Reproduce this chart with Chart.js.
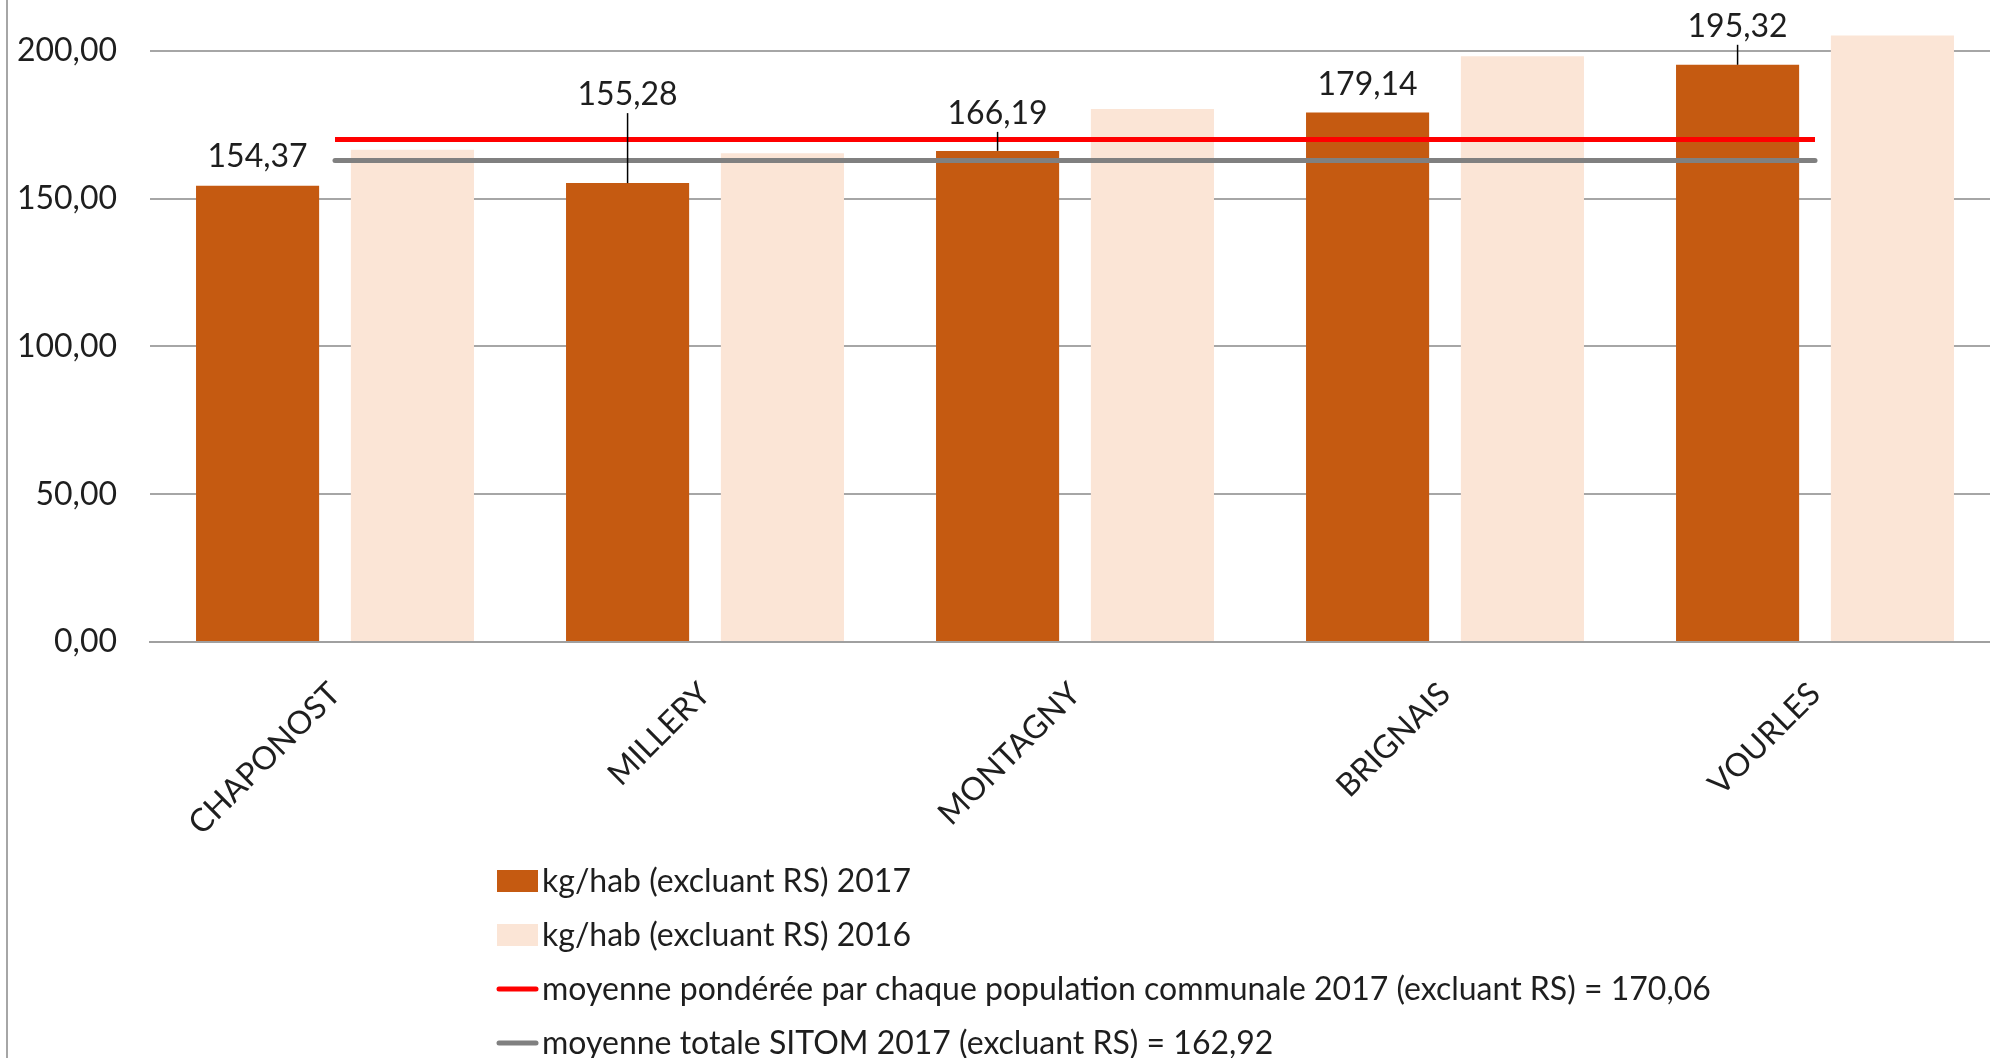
<!DOCTYPE html>
<html>
<head>
<meta charset="utf-8">
<script src="https://cdn.jsdelivr.net/npm/chart.js@4.4.1/dist/chart.umd.min.js"></script>
<style>
  html, body { margin: 0; padding: 0; background: #ffffff; overflow: hidden; width: 1990px; height: 1058px; }
  #wrap { position: absolute; left: 0; top: -149px; width: 2010px; height: 1207px; }
  canvas { display: block; }
</style>
</head>
<body>
<div id="wrap"><canvas id="c" width="2010" height="1207"></canvas></div>
<script>
// ---- data ----
const categories = ["CHAPONOST", "MILLERY", "MONTAGNY", "BRIGNAIS", "VOURLES"];
const kg2017 = [154.37, 155.28, 166.19, 179.14, 195.32];
const kg2016 = [166.6, 165.4, 180.4, 198.2, 205.2];
const moyennePonderee = [170.06, 170.06, 170.06, 170.06, 170.06];
const moyenneSitom = [162.92, 162.92, 162.92, 162.92, 162.92];
const seriesNames = [
  "kg/hab (excluant RS) 2017",
  "kg/hab (excluant RS) 2016",
  "moyenne pondérée par chaque population communale 2017 (excluant RS) = 170,06",
  "moyenne totale SITOM 2017 (excluant RS) = 162,92"
];
const yTicks = [0, 50, 100, 150, 200, 250];

const FONT = "Lato";
const FS = 32;
const TEXT = "#1e1e1e";
const SHIFT = 149; // canvas is shifted up by this many px

function fmt(v) { return v.toFixed(2).replace('.', ','); }

// value labels on 2017 bars (Excel-style manually moved labels with leader lines)
const labelPlugin = {
  id: 'valueLabels',
  afterDatasetsDraw(chart, args, opts) {
    const ctx = chart.ctx;
    const meta = chart.getDatasetMeta(0);
    ctx.save();
    ctx.font = `${FS}px ${FONT}`;
    ctx.fillStyle = TEXT;
    ctx.textAlign = 'center';
    ctx.textBaseline = 'middle';
    meta.data.forEach((bar, i) => {
      const off = opts.offsets[i];
      const cy = bar.y - off;
      if (opts.leaders[i]) {
        ctx.strokeStyle = '#000000';
        ctx.lineWidth = 1.5;
        ctx.beginPath();
        ctx.moveTo(bar.x, cy + 18);
        ctx.lineTo(bar.x, bar.y);
        ctx.stroke();
      }
      ctx.fillText(fmt(chart.data.datasets[0].data[i]), bar.x, cy);
    });
    ctx.restore();
  }
};

// vertical legend list + left frame border
const legendPlugin = {
  id: 'vlegend',
  afterDraw(chart) {
    const ctx = chart.ctx;
    ctx.save();
    ctx.strokeStyle = '#a6a6a6';
    ctx.lineWidth = 2;
    ctx.beginPath();
    ctx.moveTo(7, 0);
    ctx.lineTo(7, chart.height);
    ctx.stroke();

    const x0 = 497, x1 = 538, tx = 542;
    const ys = [881, 935, 989, 1043];
    ctx.font = `${FS}px ${FONT}`;
    ctx.textAlign = 'left';
    ctx.textBaseline = 'middle';
    chart.data.datasets.forEach((ds, i) => {
      const y = ys[i] + SHIFT;
      if (ds.type === 'line') {
        ctx.strokeStyle = ds.borderColor;
        ctx.lineWidth = 5;
        ctx.lineCap = 'round';
        ctx.beginPath();
        ctx.moveTo(x0 + 2, y);
        ctx.lineTo(x1 - 2, y);
        ctx.stroke();
      } else {
        ctx.fillStyle = ds.backgroundColor;
        ctx.fillRect(x0, y - 11, x1 - x0, 22);
      }
      ctx.fillStyle = TEXT;
      ctx.fillText(ds.label, tx, y + 1);
    });
    ctx.restore();
  }
};

new Chart(document.getElementById('c'), {
  data: {
    labels: categories,
    datasets: [
      { type: 'bar', label: seriesNames[0], data: kg2017, backgroundColor: '#C55A11', order: 2,
        categoryPercentage: 0.837, barPercentage: 0.795 },
      { type: 'bar', label: seriesNames[1], data: kg2016, backgroundColor: '#FBE5D6', order: 2,
        categoryPercentage: 0.837, barPercentage: 0.795 },
      { type: 'line', label: seriesNames[2], data: moyennePonderee, borderColor: '#FF0000', borderWidth: 5,
        pointRadius: 0, fill: false, order: 1, borderCapStyle: 'butt' },
      { type: 'line', label: seriesNames[3], data: moyenneSitom, borderColor: '#808080', borderWidth: 5,
        pointRadius: 0, fill: false, order: 1, borderCapStyle: 'round' }
    ]
  },
  options: {
    responsive: false,
    animation: false,
    devicePixelRatio: 1,
    layout: { padding: { top: 23, bottom: 116, left: 0, right: 10 } },
    plugins: {
      legend: { display: false },
      tooltip: { enabled: false },
      valueLabels: { offsets: [29, 88, 37, 28, 38], leaders: [false, true, true, false, true] }
    },
    scales: {
      x: {
        grid: { display: false, drawTicks: false },
        border: { display: true, color: '#a0a0a0', width: 2 },
        ticks: { color: TEXT, font: { family: FONT, size: FS }, minRotation: 45, maxRotation: 45, padding: 33, autoSkip: false },
        afterFit(scale) { scale.height = 300; }
      },
      y: {
        min: 0, max: 250,
        afterBuildTicks(scale) { scale.ticks = yTicks.map(v => ({ value: v })); },
        grid: { color: '#a6a6a6', lineWidth: 2, drawTicks: false },
        border: { display: false },
        ticks: { color: TEXT, font: { family: FONT, size: FS }, padding: 33, callback: v => fmt(v) },
        afterFit(scale) { scale.width = 150; }
      }
    }
  },
  plugins: [labelPlugin, legendPlugin]
});
</script>
</body>
</html>
